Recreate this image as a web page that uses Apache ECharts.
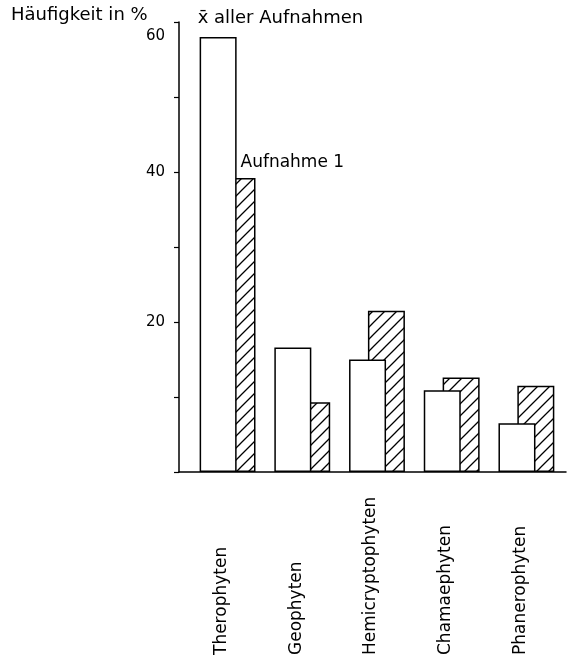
<!DOCTYPE html>
<html>
<head>
<meta charset="utf-8">
<script src="https://cdn.jsdelivr.net/npm/echarts@6/dist/echarts.min.js"></script>
<style>
html,body{margin:0;padding:0;background:#fff;}
#c{width:569px;height:662px;}
</style>
</head>
<body>
<div id="c"></div>
<script>
// Data
var categories = ['Therophyten', 'Geophyten', 'Hemicryptophyten', 'Chamaephyten', 'Phanerophyten'];
var meanAll = [58, 16.6, 15.0, 10.9, 6.5];       // x̄ aller Aufnahmen (open bars)
var aufnahme1 = [39.2, 9.3, 21.5, 12.6, 11.5];   // Aufnahme 1 (hatched bars)
var yTickLabels = [20, 40, 60];

var FONT = 'DejaVu Sans';

// hatch pattern
var pc = document.createElement('canvas');
var S = 12;
pc.width = S; pc.height = S;
var g = pc.getContext('2d');
g.fillStyle = '#fff';
g.fillRect(0, 0, S, S);
g.strokeStyle = '#000';
g.lineWidth = 1.3;
g.beginPath();
g.moveTo(0, S); g.lineTo(S, 0);
g.moveTo(-2, 2); g.lineTo(2, -2);
g.moveTo(S - 2, S + 2); g.lineTo(S + 2, S - 2);
g.stroke();

var openData = meanAll.map(function (v, i) {
  var d = { value: [i, v] };
  if (i === 0) {
    d.label = {
      show: true, position: [-2, -28], formatter: 'x\u0304 aller Aufnahmen',
      color: '#000', fontSize: 18, fontFamily: FONT
    };
  }
  return d;
});
var hatchData = aufnahme1.map(function (v, i) {
  var d = { value: [i, v] };
  if (i === 0) {
    d.label = {
      show: true, position: [22, -24], formatter: 'Aufnahme 1',
      color: '#000', fontSize: 17, fontFamily: FONT
    };
  }
  return d;
});

var chart = echarts.init(document.getElementById('c'), null, { renderer: 'canvas' });
chart.setOption({
  animation: false,
  backgroundColor: '#fff',
  title: {
    text: 'Häufigkeit in %',
    left: 6, top: 1,
    textStyle: { fontFamily: FONT, fontSize: 18, fontWeight: 'normal', color: '#000' }
  },
  grid: { left: 179, right: 3, top: 22, bottom: 190, containLabel: false },
  xAxis: {
    type: 'value',
    min: -0.65, max: 4.53,
    splitLine: { show: false },
    axisLine: { show: true, onZero: false, lineStyle: { color: '#000', width: 1.5 } },
    axisTick: { show: false },
    axisLabel: {
      customValues: [0, 1, 2, 3, 4],
      formatter: function (v) { return categories[Math.round(v)] || ''; },
      rotate: 90, align: 'left', verticalAlign: 'bottom',
      lineHeight: 12,
      margin: 183,
      color: '#000', fontSize: 17, fontFamily: FONT
    }
  },
  yAxis: {
    type: 'value',
    min: 0, max: 60, interval: 10,
    splitLine: { show: false },
    axisLine: { show: true, onZero: false, lineStyle: { color: '#000', width: 1.5 } },
    axisTick: { show: true, length: 5, lineStyle: { color: '#000', width: 1.2 } },
    axisLabel: {
      margin: 14,
      color: '#000', fontSize: 15, fontFamily: FONT,
      formatter: function (v) {
        if (yTickLabels.indexOf(v) < 0) return '';
        return v === 60 ? '{t|' + v + '}' : String(v);
      },
      rich: { t: { padding: [28, 0, 0, 0], fontSize: 15, fontFamily: FONT, color: '#000' } }
    }
  },
  series: [
    {
      name: 'x\u0304 aller Aufnahmen',
      type: 'bar',
      data: openData,
      barWidth: 37,
      barGap: '-49%',
      z: 3,
      itemStyle: { color: '#fff', borderColor: '#000', borderWidth: 1.5 }
    },
    {
      name: 'Aufnahme 1',
      type: 'bar',
      data: hatchData,
      barWidth: 37,
      barGap: '-49%',
      z: 2,
      itemStyle: { color: { image: pc, repeat: 'repeat' }, borderColor: '#000', borderWidth: 1.5 }
    }
  ]
});
</script>
</body>
</html>
